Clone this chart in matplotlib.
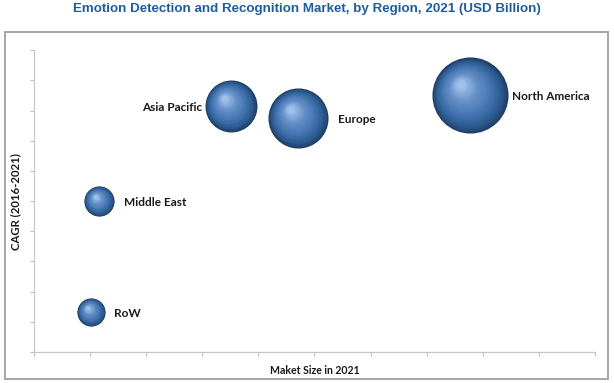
import numpy as np
import matplotlib

matplotlib.use("Agg")

import matplotlib.pyplot as plt
from matplotlib.colors import LinearSegmentedColormap
from matplotlib.patches import Rectangle
from matplotlib.transforms import offset_copy

regions = ["North America", "Europe", "Asia Pacific", "Middle East", "RoW"]
market_size = [7.77, 4.71, 3.51, 1.16, 1.02]
cagr = [8.5, 7.75, 8.15, 5.0, 1.32]
bubble_size = [3.0, 1.87, 1.40, 0.47, 0.41]

# label side and gap (points) next to each bubble
label_side = {"North America": 1, "Europe": 1, "Asia Pacific": -1, "Middle East": 1, "RoW": 1}
label_gap = {"North America": 3, "Europe": 7, "Asia Pacific": 2, "Middle East": 7, "RoW": 6}

sphere = LinearSegmentedColormap.from_list(
    "sphere", ["#1c3a60", "#2e5c92", "#4677b3", "#6590c8", "#a2c2ea"]
)

fig = plt.figure(figsize=(6.14, 3.83), dpi=100)
ax = fig.add_axes([0.0554, 0.081, 0.9134, 0.788])

n_layers = 40
for x, y, size in zip(market_size, cagr, bubble_size):
    s = size * 1000
    r = np.sqrt(s) / 2
    for k in range(n_layers):
        t = k / (n_layers - 1)
        f = 1 - 0.92 * t
        tr = offset_copy(ax.transData, fig=fig, x=-0.25 * r * t, y=0.3 * r * t, units="points")
        ax.scatter([x], [y], s=s * f * f, color=sphere(t ** 0.75), linewidths=0,
                   transform=tr, zorder=3)

for name, x, y, size in zip(regions, market_size, cagr, bubble_size):
    r = np.sqrt(size * 1000) / 2
    side = label_side[name]
    ax.annotate(name, (x, y), xytext=(side * (r + label_gap[name]), -1),
                textcoords="offset points", ha="left" if side > 0 else "right",
                va="center", fontsize=8.5, fontweight="bold", family="Lato",
                color="#1a1a1a", zorder=4)

ax.set_xlim(0, 10)
ax.set_ylim(0, 10)
ax.set_xticks(np.arange(0, 11, 1))
ax.set_yticks(np.arange(0, 11, 1))
ax.set_xticklabels([])
ax.set_yticklabels([])
ax.tick_params(length=3, color="#bfbfbf", width=0.8)
for side in ["top", "right"]:
    ax.spines[side].set_visible(False)
for side in ["left", "bottom"]:
    ax.spines[side].set_color("#c8c8c8")
    ax.spines[side].set_linewidth(0.9)

ax.set_xlabel("Maket Size in 2021", fontsize=7.6, fontweight="bold", family="Lato",
              color="#1a1a1a", labelpad=3)
ax.set_ylabel("CAGR (2016-2021)", fontsize=8.2, fontweight="bold", family="Lato",
              color="#1a1a1a", labelpad=3)

fig.patches.append(Rectangle((0.008, 0.0104), 0.982, 0.905, transform=fig.transFigure,
                             fill=False, edgecolor="#a6a6a6", linewidth=1.4))

fig.text(0.5, 0.977, "Emotion Detection and Recognition Market, by Region, 2021 (USD Billion)",
         ha="center", va="center", fontsize=9.6, fontweight="bold",
         family="Liberation Sans", color="#1f5d9a")

fig.savefig("out.png", dpi=100)
